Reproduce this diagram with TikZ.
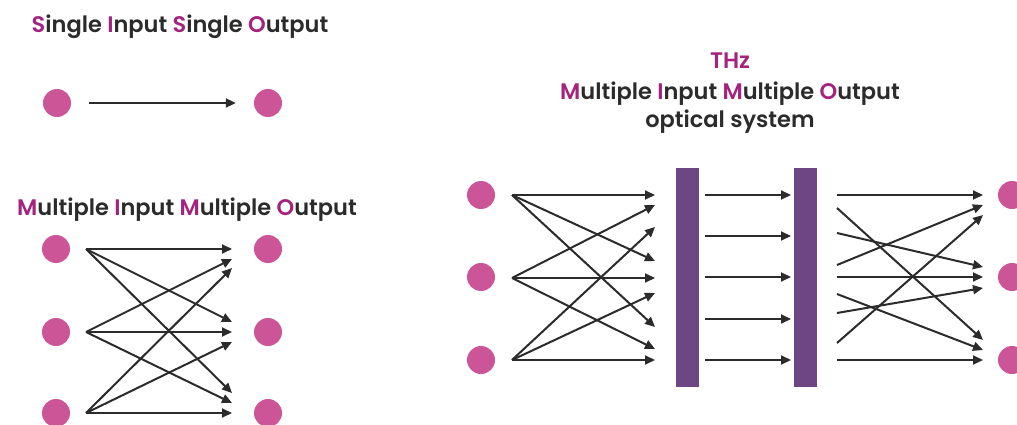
\documentclass[tikz,border=0pt]{standalone}
\usepackage{fontspec}
\setmainfont{Poppins SemiBold}
\usetikzlibrary{arrows.meta,positioning,calc}

\definecolor{ink}{HTML}{2B2B2B}
\definecolor{accent}{HTML}{A4237F}
\definecolor{dotpink}{HTML}{CB5597}
\definecolor{barpurple}{HTML}{6E4683}
\newcommand{\hl}[1]{{\color{accent}#1}}

\begin{document}
\begin{tikzpicture}[
  x=1pt, y=-1pt,
  dot/.style={circle, fill=dotpink, inner sep=0pt, minimum size=28pt},
  bar/.style={fill=barpurple, inner sep=0pt, minimum width=23pt, minimum height=219pt},
  heading/.style={anchor=base, text=ink, font=\fontsize{22.5}{27}\selectfont},
  arrow/.style={-{Triangle[length=10pt,width=9pt]}, line width=2pt, draw=ink}
]
\useasboundingbox (0,0) rectangle (1017,425);

% Single Input Single Output
\node[heading] (siso) at (180,33) {\hl{S}ingle \hl{I}nput \hl{S}ingle \hl{O}utput};
\node[dot] (sa) at (57,103) {};
\node[dot] (sb) at (268,103) {};
\draw[arrow] ([xshift=18pt]sa.east) -- ([xshift=-18pt]sb.west);

% Multiple Input Multiple Output
\node[heading] (mimo) at (187,215) {\hl{M}ultiple \hl{I}nput \hl{M}ultiple \hl{O}utput};
\node[dot] (L1) at (56,249) {};
\node[dot] (L2) at (56,332) {};
\node[dot] (L3) at (56,413) {};
\node[dot] (R1) at (268,249) {};
\node[dot] (R2) at (268,332) {};
\node[dot] (R3) at (268,413) {};

\coordinate (mo1) at (86,249);
\coordinate (mo2) at (86,332);
\coordinate (mo3) at (86,413);
\coordinate (mi1a) at (232,249);
\coordinate (mi1b) at (232,259);
\coordinate (mi1c) at (232,268);
\coordinate (mi2a) at (232,322);
\coordinate (mi2b) at (232,332);
\coordinate (mi2c) at (232,342);
\coordinate (mi3a) at (232,393);
\coordinate (mi3b) at (232,403);
\coordinate (mi3c) at (232,413);

\draw[arrow] (mo1) -- (mi1a);
\draw[arrow] (mo1) -- (mi2a);
\draw[arrow] (mo1) -- (mi3a);
\draw[arrow] (mo2) -- (mi1b);
\draw[arrow] (mo2) -- (mi2b);
\draw[arrow] (mo2) -- (mi3b);
\draw[arrow] (mo3) -- (mi1c);
\draw[arrow] (mo3) -- (mi2c);
\draw[arrow] (mo3) -- (mi3c);

% THz MIMO optical system
\node[heading, text=accent] (thz) at (730,69) {THz};
\node[heading] (thzmimo) at (730,100) {\hl{M}ultiple \hl{I}nput \hl{M}ultiple \hl{O}utput};
\node[heading] (thzopt) at (730,128) {optical system};

\node[dot] (T1) at (481,195) {};
\node[dot] (T2) at (481,277) {};
\node[dot] (T3) at (481,360) {};
\node[bar] (bar1) at (687.5,277.5) {};
\node[bar] (bar2) at (805.5,277.5) {};
\node[dot] (U1) at (1012,195) {};
\node[dot] (U2) at (1012,277) {};
\node[dot] (U3) at (1012,360) {};

\coordinate (to1) at (512,195);
\coordinate (to2) at (512,278);
\coordinate (to3) at (512,360);
\coordinate (ti1a) at (655,195);
\coordinate (ti1b) at (655,205);
\coordinate (ti1c) at (655,227);
\coordinate (ti2a) at (655,261);
\coordinate (ti2b) at (655,278);
\coordinate (ti2c) at (655,293);
\coordinate (ti3a) at (655,327);
\coordinate (ti3b) at (655,349);
\coordinate (ti3c) at (655,360);

\draw[arrow] (to1) -- (ti1a);
\draw[arrow] (to1) -- (ti2a);
\draw[arrow] (to1) -- (ti3a);
\draw[arrow] (to2) -- (ti1b);
\draw[arrow] (to2) -- (ti2b);
\draw[arrow] (to2) -- (ti3b);
\draw[arrow] (to3) -- (ti1c);
\draw[arrow] (to3) -- (ti2c);
\draw[arrow] (to3) -- (ti3c);

% between the two plates
\coordinate (ga1) at (705,195);
\coordinate (ga2) at (705,236);
\coordinate (ga3) at (705,277);
\coordinate (ga4) at (705,319);
\coordinate (ga5) at (705,360);
\coordinate (gb1) at (791,195);
\coordinate (gb2) at (791,236);
\coordinate (gb3) at (791,277);
\coordinate (gb4) at (791,319);
\coordinate (gb5) at (791,360);

\draw[arrow] (ga1) -- (gb1);
\draw[arrow] (ga2) -- (gb2);
\draw[arrow] (ga3) -- (gb3);
\draw[arrow] (ga4) -- (gb4);
\draw[arrow] (ga5) -- (gb5);

% after the second plate
\coordinate (po1) at (837,195);
\coordinate (po2) at (837,208);
\coordinate (po3) at (837,233);
\coordinate (po4) at (837,265);
\coordinate (po5) at (837,277);
\coordinate (po6) at (837,294);
\coordinate (po7) at (837,313);
\coordinate (po8) at (837,343);
\coordinate (po9) at (837,360);
\coordinate (pi1a) at (983,195);
\coordinate (pi1b) at (983,205);
\coordinate (pi1c) at (983,215);
\coordinate (pi2a) at (983,267);
\coordinate (pi2b) at (983,277);
\coordinate (pi2c) at (983,288);
\coordinate (pi3a) at (983,340);
\coordinate (pi3b) at (983,350);
\coordinate (pi3c) at (983,360);

\draw[arrow] (po1) -- (pi1a);
\draw[arrow] (po2) -- (pi3a);
\draw[arrow] (po3) -- (pi2a);
\draw[arrow] (po4) -- (pi1b);
\draw[arrow] (po5) -- (pi2b);
\draw[arrow] (po6) -- (pi3b);
\draw[arrow] (po7) -- (pi2c);
\draw[arrow] (po8) -- (pi1c);
\draw[arrow] (po9) -- (pi3c);
\end{tikzpicture}
\end{document}
